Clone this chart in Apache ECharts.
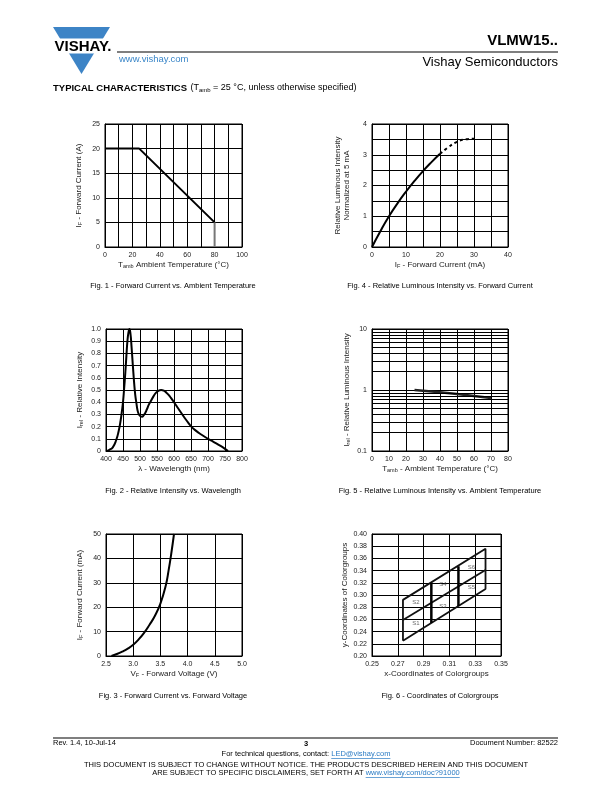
<!DOCTYPE html>
<html>
<head>
<meta charset="utf-8">
<script src="https://cdn.jsdelivr.net/npm/echarts@6/dist/echarts.min.js"></script>
<style>
html, body { margin: 0; padding: 0; background: #fff; }
#page { width: 612px; height: 792px; }
</style>
</head>
<body>
<div id="page"></div>
<script>
// Fig. 1 - forward current vs ambient temperature
var fig1Temp = [0, 25, 80];
var fig1Current = [20, 20, 5];
var fig1DropTemp = [80, 80];
var fig1DropCurrent = [5, 0];

// Fig. 4 - relative luminous intensity vs forward current
var fig4Current = [0, 2.5, 5, 7.5, 10, 12.5, 15, 17.5, 20];
var fig4Intensity = [0, 0.52, 1, 1.42, 1.8, 2.15, 2.47, 2.76, 3.03];
var fig4DashCurrent = [20, 22.5, 25, 27.5, 30];
var fig4DashIntensity = [3.03, 3.25, 3.42, 3.5, 3.52];

// Fig. 2 - relative intensity vs wavelength
var fig2Wavelength = [400, 410, 420, 430, 437, 443, 447, 450, 453, 457, 460, 463, 466, 469, 472, 475, 479, 483, 486, 489, 493, 497, 502, 506, 510, 515, 520, 526, 532, 540, 548, 555, 562, 570, 577, 584, 591, 600, 612, 623, 637, 651, 665, 680, 700, 715, 729, 745, 759];
var fig2Intensity = [0, 0.01, 0.03, 0.09, 0.16, 0.25, 0.33, 0.4, 0.5, 0.65, 0.78, 0.9, 0.97, 1.0, 0.96, 0.86, 0.7, 0.55, 0.46, 0.4, 0.33, 0.3, 0.285, 0.28, 0.29, 0.31, 0.34, 0.38, 0.41, 0.45, 0.48, 0.495, 0.5, 0.495, 0.48, 0.46, 0.435, 0.4, 0.35, 0.305, 0.25, 0.2, 0.165, 0.135, 0.1, 0.077, 0.055, 0.028, 0];

// Fig. 5 - relative luminous intensity vs ambient temperature (log y)
var fig5Temp = [25, 40, 50, 60, 70];
var fig5Intensity = [1.0, 0.92, 0.86, 0.8, 0.74];
var logMinorTicks = [0.2, 0.3, 0.4, 0.5, 0.6, 0.7, 0.8, 0.9, 2, 3, 4, 5, 6, 7, 8, 9];

// Fig. 3 - forward current vs forward voltage
var fig3Voltage = [2.6, 2.7, 2.8, 2.9, 3.0, 3.1, 3.2, 3.3, 3.4, 3.5, 3.6, 3.65, 3.7, 3.75];
var fig3Current = [0, 0.8, 1.8, 3, 4.6, 6.8, 9.5, 12.8, 16.5, 21.5, 29, 35, 42, 50];

// Fig. 6 - colour group coordinates
var cgOutlineX = [0.274, 0.338, 0.338, 0.274, 0.274];
var cgOutlineY = [0.225, 0.310, 0.376, 0.292, 0.225];
var cgMiddleX = [0.274, 0.338];
var cgMiddleY = [0.259, 0.341];
var cgDivider1X = [0.296, 0.296];
var cgDivider1Y = [0.254, 0.320];
var cgDivider2X = [0.317, 0.317];
var cgDivider2Y = [0.282, 0.347];
var cgLabels = ['S1', 'S2', 'S3', 'S4', 'S5', 'S6'];
var cgLabelX = [0.284, 0.284, 0.305, 0.305, 0.327, 0.327];
var cgLabelY = [0.253, 0.288, 0.282, 0.317, 0.312, 0.345];

var FONT = 'Liberation Sans';
var TXT = '#222';

function pairs(xs, ys) {
  return xs.map(function (x, i) { return [x, ys[i]]; });
}

var nameRich = {
  n: { fontSize: 8, color: TXT, fontFamily: FONT },
  s: { fontSize: 5.5, color: TXT, fontFamily: FONT, padding: [4, 0, 0, 0] }
};

function axis(gridIndex, o) {
  return {
    gridIndex: gridIndex,
    type: o.type || 'value',
    min: o.min, max: o.max, interval: o.interval,
    logBase: o.logBase,
    name: o.name,
    nameLocation: 'middle',
    nameGap: o.gap,
    nameTextStyle: { fontSize: 8, color: TXT, fontFamily: FONT, lineHeight: 9, rich: nameRich },
    axisLine: { show: true, onZero: false, lineStyle: { color: '#000', width: 1 } },
    axisTick: { show: false },
    axisLabel: { fontSize: 7, color: TXT, fontFamily: FONT, margin: o.margin || 5, formatter: o.fmt, showMinLabel: true, showMaxLabel: true },
    splitLine: { show: true, lineStyle: { color: '#000', width: 1 } },
    minorTick: { show: false },
    minorSplitLine: { show: false }
  };
}

function curve(idx, data, extra) {
  var s = {
    type: 'line', xAxisIndex: idx, yAxisIndex: idx,
    data: data, showSymbol: false, symbol: 'none',
    lineStyle: { color: '#000', width: 2 },
    silent: true
  };
  for (var k in extra) s[k] = extra[k];
  return s;
}

function gridBox(l, t, w, h) {
  return { left: l, top: t, width: w, height: h, show: true, borderColor: '#000', borderWidth: 1, backgroundColor: '#fff' };
}

var ctx = document.createElement('canvas').getContext('2d');
function tw(text, font) { ctx.font = font; return ctx.measureText(text).width; }

var chart = echarts.init(document.getElementById('page'), null, { renderer: 'canvas' });

// page text (header, captions, footer)
var graphics = [];
function text(x, y, str, size, opts) {
  opts = opts || {};
  graphics.push({
    type: 'text', z: 20,
    style: {
      x: x, y: y, text: str,
      font: (opts.bold ? 'bold ' : '') + size + 'px ' + FONT,
      fill: opts.color || '#000',
      align: opts.align || 'left', verticalAlign: 'middle'
    }
  });
}
function hline(x1, x2, y, w, color) {
  graphics.push({ type: 'line', z: 20, shape: { x1: x1, y1: y, x2: x2, y2: y }, style: { stroke: color || '#000', lineWidth: w } });
}

// logo
graphics.push({ type: 'polygon', z: 10, shape: { points: [[53, 27], [110, 27], [81.5, 74]] }, style: { fill: '#3d84c6' } });
graphics.push({ type: 'rect', z: 11, shape: { x: 48, y: 38.5, width: 70, height: 15 }, style: { fill: '#fff' } });
text(83, 46.5, 'VISHAY.', 15, { bold: true, align: 'center' });

text(558, 41, 'VLMW15..', 15, { bold: true, align: 'right' });
hline(117, 558, 52, 1.2);
text(119, 59, 'www.vishay.com', 9.5, { color: '#3a86c8' });
text(558, 62, 'Vishay Semiconductors', 13, { align: 'right' });

graphics.push({
  type: 'text', z: 20,
  style: {
    x: 53, y: 88, verticalAlign: 'middle',
    text: '{b|TYPICAL CHARACTERISTICS} {n|(T}{s|amb}{n| = 25 °C, unless otherwise specified)}',
    rich: {
      b: { font: 'bold 9.5px ' + FONT, fill: '#000' },
      n: { font: '9px ' + FONT, fill: '#000' },
      s: { font: '6px ' + FONT, fill: '#000', padding: [4, 0, 0, 0] }
    }
  }
});

text(173, 286, 'Fig. 1 - Forward Current vs. Ambient Temperature', 7.5, { align: 'center' });
text(440, 286, 'Fig. 4 - Relative Luminous Intensity vs. Forward Current', 7.5, { align: 'center' });
text(173, 491, 'Fig. 2 - Relative Intensity vs. Wavelength', 7.5, { align: 'center' });
text(440, 491, 'Fig. 5 - Relative Luminous Intensity vs. Ambient Temperature', 7.5, { align: 'center' });
text(173, 696, 'Fig. 3 - Forward Current vs. Forward Voltage', 7.5, { align: 'center' });
text(440, 696, 'Fig. 6 - Coordinates of Colorgroups', 7.5, { align: 'center' });

// footer
hline(53, 558, 738, 1.2);
text(53, 743, 'Rev. 1.4, 10-Jul-14', 7.5);
text(306, 744, '3', 7.5, { bold: true, align: 'center' });
text(558, 743, 'Document Number: 82522', 7.5, { align: 'right' });

var ff = '7.5px ' + FONT;
function linkLine(y, pre, link) {
  var w1 = tw(pre, ff), w2 = tw(link, ff);
  var x0 = 306 - (w1 + w2) / 2;
  text(x0, y, pre, 7.5);
  text(x0 + w1, y, link, 7.5, { color: '#2a7bc4' });
  hline(x0 + w1, x0 + w1 + w2, y + 4.5, 0.7, '#2a7bc4');
}
linkLine(754, 'For technical questions, contact: ', 'LED@vishay.com');
text(306, 765, 'THIS DOCUMENT IS SUBJECT TO CHANGE WITHOUT NOTICE. THE PRODUCTS DESCRIBED HEREIN AND THIS DOCUMENT', 7.5, { align: 'center' });
linkLine(773, 'ARE SUBJECT TO SPECIFIC DISCLAIMERS, SET FORTH AT ', 'www.vishay.com/doc?91000');

function every(step) {
  return function (v) { return Math.abs(v / step - Math.round(v / step)) < 1e-6 ? String(v) : ''; };
}

var option = {
  animation: false,
  backgroundColor: '#fff',
  graphic: graphics,
  grid: [
    gridBox(105, 124, 137, 123),
    gridBox(372, 124, 136, 123),
    gridBox(106, 329, 136, 122),
    gridBox(372, 329, 136, 122),
    gridBox(106, 534, 136, 122),
    gridBox(372, 534, 129, 122)
  ],
  xAxis: [
    axis(0, { min: 0, max: 100, interval: 10, fmt: every(20), gap: 13, name: '{n|T}{s|amb}{n| Ambient Temperature (°C)}' }),
    axis(1, { min: 0, max: 40, interval: 5, fmt: every(10), gap: 13, name: '{n|I}{s|F}{n| - Forward Current (mA)}' }),
    axis(2, { min: 400, max: 800, interval: 50, gap: 13, name: 'λ - Wavelength (nm)' }),
    axis(3, { min: 0, max: 80, interval: 10, gap: 13, name: '{n|T}{s|amb}{n| - Ambient Temperature (°C)}' }),
    axis(4, { min: 2.5, max: 5, interval: 0.5, gap: 13, fmt: function (v) { return v.toFixed(1); }, name: '{n|V}{s|F}{n| - Forward Voltage (V)}' }),
    axis(5, { min: 0.25, max: 0.35, interval: 0.02, gap: 12, fmt: function (v) { return v.toFixed(2); }, name: 'x-Coordinates of Colorgroups' })
  ],
  yAxis: [
    axis(0, { min: 0, max: 25, interval: 5, gap: 22, name: '{n|I}{s|F}{n| - Forward Current (A)}' }),
    axis(1, { min: 0, max: 4, interval: 0.5, fmt: every(1), gap: 21, name: 'Relative Luminous Intensity\nNormalized at 5 mA' }),
    axis(2, { min: 0, max: 1, interval: 0.1, gap: 22, fmt: function (v) { return v === 0 ? '0' : v.toFixed(1); }, name: '{n|I}{s|rel}{n| - Relative Intensity}' }),
    axis(3, { type: 'log', logBase: 10, min: 0.1, max: 10, gap: 21, fmt: function (v) { return String(v); }, name: '{n|I}{s|rel}{n| - Relative Luminous Intensity}' }),
    axis(4, { min: 0, max: 50, interval: 10, gap: 22, name: '{n|I}{s|F}{n| - Forward Current (mA)}' }),
    axis(5, { min: 0.2, max: 0.4, interval: 0.02, gap: 20, fmt: function (v) { return v.toFixed(2); }, name: 'y-Coordinates of Colorgroups' })
  ],
  series: [
    curve(0, pairs(fig1Temp, fig1Current)),
    curve(0, pairs(fig1DropTemp, fig1DropCurrent), { lineStyle: { color: '#777', width: 2 } }),
    curve(1, pairs(fig4Current, fig4Intensity), { smooth: 0.5 }),
    curve(1, pairs(fig4DashCurrent, fig4DashIntensity), { smooth: 0.5, lineStyle: { color: '#000', width: 2, type: [3, 3] } }),
    curve(2, pairs(fig2Wavelength, fig2Intensity), { smooth: 0.5 }),
    curve(3, pairs(fig5Temp, fig5Intensity), {
      lineStyle: { color: '#222', width: 2.5 },
      markLine: {
        silent: true, symbol: 'none', animation: false,
        label: { show: false },
        lineStyle: { color: '#000', width: 1, type: 'solid' },
        data: logMinorTicks.map(function (v) { return { yAxis: v }; })
      }
    }),
    curve(4, pairs(fig3Voltage, fig3Current), { smooth: 0.5 }),
    curve(5, pairs(cgOutlineX, cgOutlineY), { lineStyle: { color: '#111', width: 1.8 } }),
    curve(5, pairs(cgMiddleX, cgMiddleY), { lineStyle: { color: '#111', width: 1.8 } }),
    curve(5, pairs(cgDivider1X, cgDivider1Y), { lineStyle: { color: '#000', width: 2.5 } }),
    curve(5, pairs(cgDivider2X, cgDivider2Y), { lineStyle: { color: '#000', width: 2.5 } }),
    {
      type: 'scatter', xAxisIndex: 5, yAxisIndex: 5, symbolSize: 0, silent: true,
      data: cgLabels.map(function (l, i) { return { value: [cgLabelX[i], cgLabelY[i]], name: l }; }),
      label: { show: true, position: 'inside', formatter: '{b}', fontSize: 6, color: '#444', fontFamily: FONT }
    }
  ]
};

chart.setOption(option);
</script>
</body>
</html>
